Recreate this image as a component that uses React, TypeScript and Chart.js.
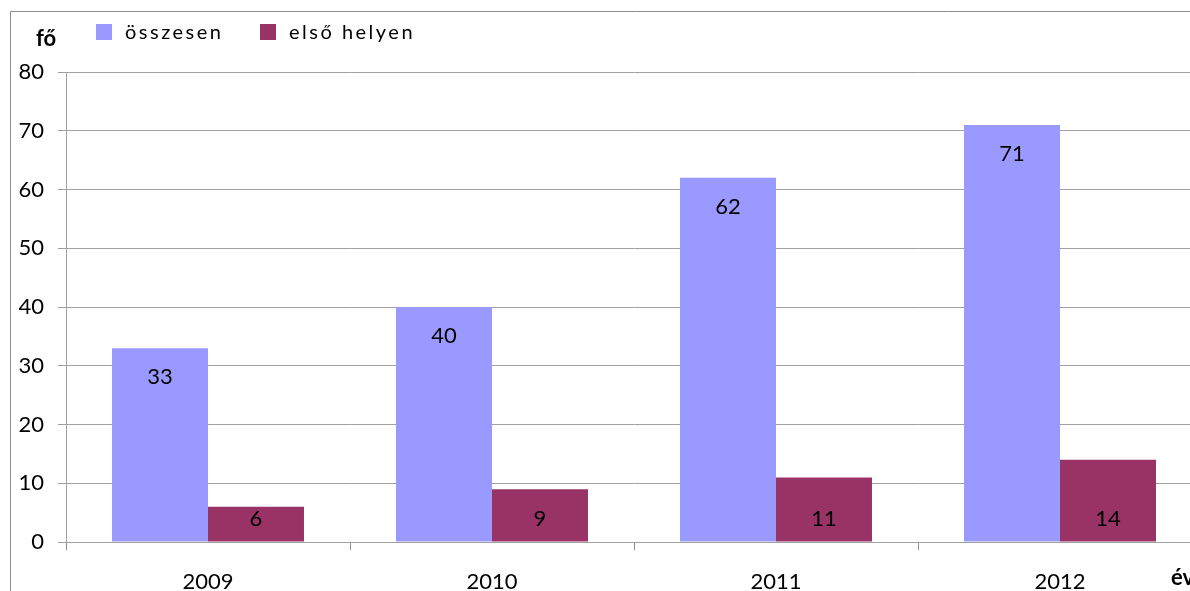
import React, { useEffect, useRef } from "react";
import { Chart, registerables } from "chart.js";

Chart.register(...registerables);

const categories = ["2009", "2010", "2011", "2012"];
const osszesen = [33, 40, 62, 71];
const elsoHelyen = [6, 9, 11, 14];
const seriesNames = ["összesen", "első helyen"];
const yTicks = [0, 10, 20, 30, 40, 50, 60, 70, 80];

const BLUE = "#9999FF";
const RED = "#993366";
const FONT = "Lato, 'Open Sans', sans-serif";

const decorPlugin = {
  id: "decor",
  afterDraw(chart: any) {
    const ctx = chart.ctx;
    ctx.save();
    // outer border
    ctx.strokeStyle = "#8c8c8c";
    ctx.lineWidth = 1;
    ctx.beginPath();
    ctx.moveTo(10.5, chart.height);
    ctx.lineTo(10.5, 11.5);
    ctx.lineTo(chart.width, 11.5);
    ctx.stroke();

    // axis titles
    ctx.fillStyle = "#000";
    ctx.font = `bold 22px ${FONT}`;
    ctx.textBaseline = "middle";
    ctx.textAlign = "left";
    ctx.fillText("fő", 36, 39);
    ctx.fillText("év", 1171, 578);

    // legend
    const items = [
      { name: seriesNames[0], color: BLUE, box: 96, text: 125 },
      { name: seriesNames[1], color: RED, box: 260, text: 289 },
    ];
    ctx.font = `20px ${FONT}`;
    (ctx as any).letterSpacing = "2.5px";
    for (const it of items) {
      ctx.fillStyle = it.color;
      ctx.fillRect(it.box, 24, 16, 16);
      ctx.fillStyle = "#000";
      ctx.fillText(it.name, it.text, 33);
    }
    (ctx as any).letterSpacing = "0px";

    // data labels
    ctx.font = `22px ${FONT}`;
    ctx.textAlign = "center";
    ctx.textBaseline = "middle";
    ctx.fillStyle = "#000";
    const m0 = chart.getDatasetMeta(0);
    const m1 = chart.getDatasetMeta(1);
    m0.data.forEach((bar: any, i: number) => {
      ctx.fillText(String(osszesen[i]), bar.x, bar.y + 29);
    });
    m1.data.forEach((bar: any, i: number) => {
      ctx.fillText(String(elsoHelyen[i]), bar.x, bar.base - 23);
    });
    ctx.restore();
  },
};

export default function App() {
  const ref = useRef<HTMLCanvasElement>(null);
  useEffect(() => {
    if (!ref.current) return;
    const chart = new Chart(ref.current, {
      type: "bar",
      data: {
        labels: categories,
        datasets: [
          { label: seriesNames[0], data: osszesen, backgroundColor: BLUE },
          { label: seriesNames[1], data: elsoHelyen, backgroundColor: RED },
        ],
      },
      options: {
        responsive: false,
        animation: false,
        devicePixelRatio: 1,
        layout: { padding: { left: 0, top: 72, right: 58, bottom: 0 } },
        datasets: { bar: { categoryPercentage: 0.676, barPercentage: 1 } },
        plugins: { legend: { display: false }, tooltip: { enabled: false } },
        scales: {
          x: {
            grid: {
              drawOnChartArea: false,
              drawTicks: true,
              tickLength: 8,
              color: "#8c8c8c",
              offset: true,
            },
            border: { color: "#a0a0a0" },
            ticks: {
              color: "#000",
              font: { family: FONT, size: 22 },
              padding: 19,
              maxRotation: 0,
            },
            afterFit(scale: any) {
              scale.height = 78;
            },
          },
          y: {
            min: 0,
            max: 80,
            afterBuildTicks(scale: any) {
              scale.ticks = yTicks.map((v) => ({ value: v }));
            },
            grid: { color: "#a0a0a0", tickLength: 8 },
            border: { color: "#a0a0a0" },
            ticks: {
              color: "#000",
              font: { family: FONT, size: 22 },
              padding: 14,
            },
            afterFit(scale: any) {
              scale.width = 66;
            },
          },
        },
      },
      plugins: [decorPlugin],
    } as any);
    return () => chart.destroy();
  }, []);
  return (
    <div
      style={{
        position: "fixed",
        left: 0,
        top: 0,
        width: "100vw",
        height: "100vh",
        overflow: "hidden",
        background: "#fff",
      }}
    >
      <canvas ref={ref} width={1260} height={620} style={{ display: "block" }} />
    </div>
  );
}
